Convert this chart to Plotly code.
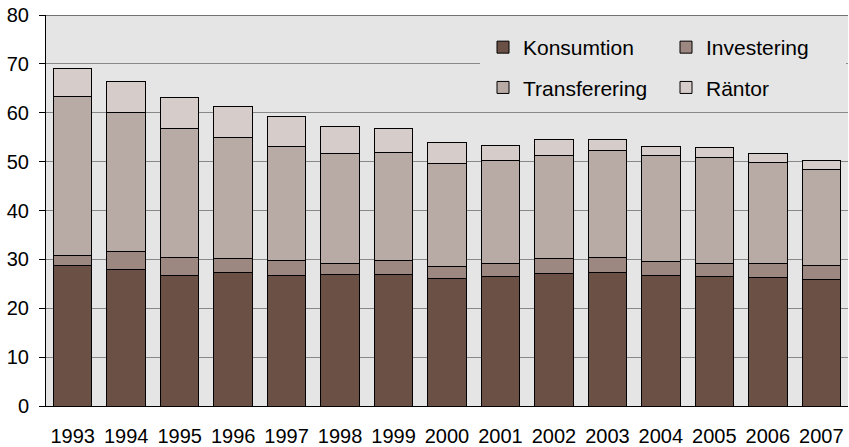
import plotly.graph_objects as go

years = ["1993", "1994", "1995", "1996", "1997", "1998", "1999", "2000",
         "2001", "2002", "2003", "2004", "2005", "2006", "2007"]

# Cumulative tops
konsumtion_top = [28.7, 27.9, 26.7, 27.4, 26.8, 27.0, 26.9, 26.0, 26.4, 27.2, 27.4, 26.7, 26.4, 26.2, 25.9]
investering_top = [30.8, 31.7, 30.4, 30.1, 29.8, 29.1, 29.7, 28.5, 29.2, 30.2, 30.3, 29.5, 29.1, 29.2, 28.8]
transferering_top = [63.3, 60.1, 56.7, 54.9, 53.1, 51.6, 51.9, 49.7, 50.3, 51.3, 52.3, 51.2, 50.9, 49.9, 48.4]
rantor_top = [69.0, 66.4, 63.2, 61.3, 59.3, 57.1, 56.7, 53.9, 53.3, 54.5, 54.6, 53.1, 52.9, 51.7, 50.3]

konsumtion = konsumtion_top
investering = [round(b - a, 2) for a, b in zip(konsumtion_top, investering_top)]
transferering = [round(b - a, 2) for a, b in zip(investering_top, transferering_top)]
rantor = [round(b - a, 2) for a, b in zip(transferering_top, rantor_top)]

series = [
    ("Konsumtion", konsumtion, "#6b5045", "legend"),
    ("Investering", investering, "#9c8880", "legend2"),
    ("Transferering", transferering, "#b8aaa5", "legend"),
    ("Räntor", rantor, "#d6ccc9", "legend2"),
]

fig = go.Figure()
for name, vals, col, leg in series:
    fig.add_trace(go.Bar(
        x=years, y=vals, name=name, legend=leg, legendgroup=name,
        marker=dict(color=col, line=dict(color="#000000", width=1)),
    ))

FONT = "Liberation Sans, Arial, sans-serif"
W, H = 849, 447

legend_common = dict(
    orientation="v",
    xref="container", yref="container",
    xanchor="left", yanchor="top",
    bgcolor="#e5e5e5",
    font=dict(family=FONT, size=21, color="#000000"),
    tracegroupgap=10,
    borderwidth=0,
)

fig.update_layout(
    barmode="stack",
    bargap=0.28,
    width=W, height=H,
    margin=dict(l=46, r=1, t=15, b=41, autoexpand=False),
    paper_bgcolor="#ffffff",
    plot_bgcolor="#e5e5e5",
    font=dict(family=FONT, size=20, color="#000000"),
    showlegend=True,
    legend=dict(x=483 / W, y=1 - 27 / H, **legend_common),
    legend2=dict(x=666 / W, y=1 - 27 / H, **legend_common),
    xaxis=dict(
        showgrid=False,
        showline=True, linecolor="#000000", linewidth=1,
        ticks="", ticklabelstandoff=12,
        tickfont=dict(size=20),
    ),
    yaxis=dict(
        range=[0, 80], dtick=10,
        showgrid=True, gridcolor="#888888", gridwidth=1,
        showline=True, linecolor="#000000", linewidth=1,
        ticks="outside", ticklen=6, tickcolor="#000000",
        ticklabelstandoff=6,
        tickfont=dict(size=20),
        zeroline=False,
    ),
    shapes=[
        dict(
            type="rect", xref="paper", yref="y",
            x0=(480 - 46) / 802, x1=(846 - 46) / 802, y0=61.5, y1=79.6,
            fillcolor="#e5e5e5", line=dict(width=0), layer="above",
        ),
        dict(
            type="line", xref="paper", yref="y",
            x0=0, x1=1, y0=80, y1=80,
            line=dict(color="#000000", width=1), layer="above",
        ),
    ],
)

fig.write_html(
    "out.html",
    config={"displayModeBar": False},
    post_script="document.body.style.margin='0px';document.body.style.overflow='hidden';",
)
